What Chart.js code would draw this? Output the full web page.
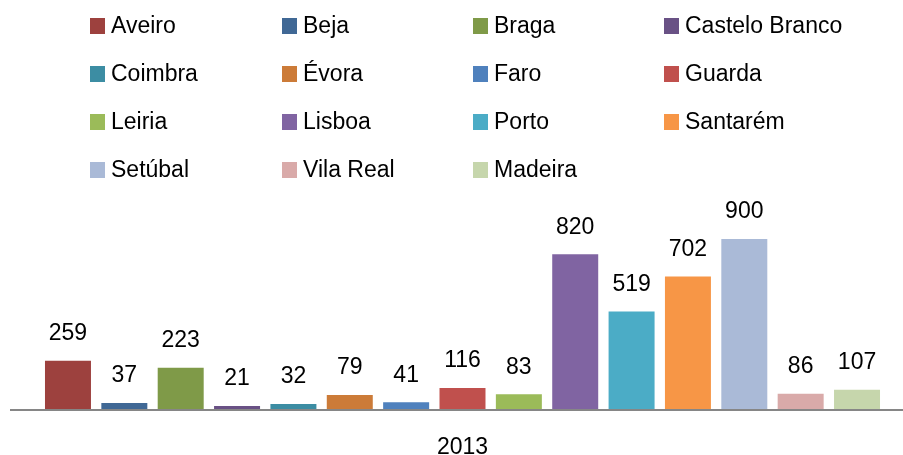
<!DOCTYPE html>
<html>
<head>
<meta charset="utf-8">
<script src="https://cdn.jsdelivr.net/npm/chart.js@4/dist/chart.umd.min.js"></script>
<style>
  html, body { margin: 0; padding: 0; background: #fff; }
  #c { display: block; }
</style>
</head>
<body>
<canvas id="c" width="903" height="455"></canvas>
<script>
const categories = ['2013'];
const regions = ['Aveiro', 'Beja', 'Braga', 'Castelo Branco', 'Coimbra', 'Évora', 'Faro', 'Guarda',
                 'Leiria', 'Lisboa', 'Porto', 'Santarém', 'Setúbal', 'Vila Real', 'Madeira'];
const values = [259, 37, 223, 21, 32, 79, 41, 116, 83, 820, 519, 702, 900, 86, 107];
const colors = ['#9D413E', '#406895', '#7F9A48', '#695185', '#3C8DA3', '#CC7B38', '#4F81BD', '#C0504D',
                '#9BBB59', '#8064A2', '#4BACC6', '#F79646', '#AABAD7', '#D9AAA9', '#C6D6AC'];

const FONT = "'Liberation Sans', Arial, sans-serif";

const datasets = regions.map((r, i) => ({
  label: r,
  data: [values[i]],
  backgroundColor: colors[i],
  borderWidth: 0,
  categoryPercentage: 0.9596,
  barPercentage: 0.816
}));

const gridLegend = {
  id: 'gridLegend',
  afterDraw(chart) {
    const ctx = chart.ctx;
    const colX = [90, 282, 473, 664];
    const rowY = [25.7, 73.7, 121.7, 169.7];
    ctx.save();
    ctx.font = '23px ' + FONT;
    ctx.fillStyle = '#000';
    ctx.textAlign = 'left';
    ctx.textBaseline = 'alphabetic';
    chart.data.datasets.forEach((ds, i) => {
      const x = colX[i % 4];
      const y = rowY[Math.floor(i / 4)];
      ctx.fillStyle = ds.backgroundColor;
      ctx.fillRect(x, Math.round(y - 8), 15, 16);
      ctx.fillStyle = '#000';
      ctx.fillText(ds.label, x + 21, y + 7);
    });
    ctx.restore();
  }
};

const valueLabels = {
  id: 'valueLabels',
  afterDatasetsDraw(chart) {
    const ctx = chart.ctx;
    const area = chart.chartArea;
    ctx.save();
    // axis line
    ctx.strokeStyle = '#868686';
    ctx.lineWidth = 2;
    ctx.beginPath();
    ctx.moveTo(10, area.bottom);
    ctx.lineTo(903, area.bottom);
    ctx.stroke();
    ctx.font = '23px ' + FONT;
    ctx.fillStyle = '#000';
    ctx.textAlign = 'center';
    ctx.textBaseline = 'middle';
    chart.data.datasets.forEach((ds, i) => {
      const meta = chart.getDatasetMeta(i);
      meta.data.forEach((el, j) => {
        ctx.fillText(String(ds.data[j]), el.x, el.y - 27);
      });
    });
    ctx.restore();
  }
};

new Chart(document.getElementById('c'), {
  type: 'bar',
  data: { labels: categories, datasets },
  options: {
    responsive: false,
    animation: false,
    devicePixelRatio: 1,
    layout: { padding: { top: 220, left: 22, right: 0, bottom: 0 } },
    plugins: {
      legend: { display: false },
      tooltip: { enabled: false }
    },
    scales: {
      x: {
        grid: { display: false, drawTicks: false },
        border: { display: false },
        ticks: { color: '#000', padding: 24, font: { family: FONT, size: 23 } },
        afterFit(s) { s.height = 45; }
      },
      y: { display: false, min: 0, max: 1000 }
    }
  },
  plugins: [gridLegend, valueLabels]
});
</script>
</body>
</html>
